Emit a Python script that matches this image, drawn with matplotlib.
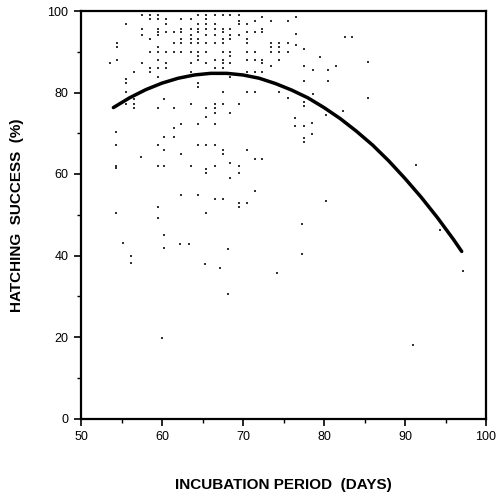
import matplotlib
matplotlib.use("Agg")
import matplotlib.pyplot as plt
from matplotlib.ticker import MultipleLocator

# Scatter data: (incubation days, hatching success %)
pts_x = [
    57.5, 58.5, 59.5, 64.5, 65.4, 66.5, 67.5, 68.4, 69.5, 72.4,
    58.5, 59.5, 60.5, 62.4, 63.6, 65.4, 69.5, 71.5, 73.5, 75.6,
    55.5, 60.5, 64.5, 65.4, 66.5, 69.5, 70.5,
    57.5, 59.5, 62.4, 63.6, 64.5, 65.4, 66.5, 67.5, 68.4, 72.4,
    59.5, 60.5, 61.5, 62.4, 64.5, 67.5, 70.5, 71.5, 72.4,
    57.5, 59.5, 63.6, 65.4, 66.5, 68.4, 69.5,
    58.5, 62.4, 63.6, 64.5, 67.5, 68.4, 70.5,
    54.4, 61.5, 62.4, 63.6, 64.5, 65.4, 66.5, 67.5, 70.5, 73.5, 74.4, 75.6,
    54.4, 59.5, 73.5, 74.4,
    58.5, 59.5, 60.5, 61.5, 62.4, 63.6, 64.5, 65.4, 67.5, 68.4, 70.5, 71.5, 73.5, 74.4, 75.6,
    64.5, 68.4,
    54.4, 59.5, 64.5, 66.5, 67.5, 70.5, 71.5, 72.4, 74.4,
    53.6, 57.5, 60.5, 63.6, 65.4, 67.5, 68.4, 72.4, 73.5,
    58.5, 59.5, 60.5, 66.5, 67.5,
    56.5, 58.5, 63.6, 70.5, 71.5, 72.4,
    59.5, 68.4, 55.5, 55.5, 64.5, 64.5,
    55.5, 67.5, 70.5, 71.5, 74.4,
    56.5, 60.3,
    55.5, 56.5, 63.6, 66.5, 67.5, 69.5,
    56.5, 59.5, 61.5, 65.4, 66.5,
    66.5, 68.4, 65.4,
    62.4, 64.5, 66.5, 61.5, 54.3, 60.3, 61.5,
    54.3, 59.5, 64.5, 65.4, 66.5,
    60.3, 67.5, 70.5, 62.4, 67.5, 57.4, 71.5, 72.4, 68.4,
    54.3, 59.5, 60.3, 63.6, 66.5, 69.5,
    54.3, 65.4, 65.4, 69.5, 68.4, 71.5, 62.4, 64.5, 66.5, 67.5,
    69.5, 70.5, 59.5, 69.5, 54.3, 65.4, 59.5,
    60.2, 55.2, 62.2, 63.3, 60.2, 68.2, 56.2, 56.2, 65.3, 67.2,
    74.2, 68.2, 60.0,
    77.3, 77.3, 94.3, 97.2, 91.0, 80.3,
    76.6, 76.5, 82.6, 83.5, 76.5, 77.5, 79.5, 77.5, 78.6, 80.5,
    81.5, 85.4, 77.5, 80.5, 78.6, 75.5, 85.4, 77.5, 77.5, 82.4,
    80.3, 76.4, 76.4, 77.5, 78.5, 78.5, 77.5, 77.5, 91.3,
]
pts_y = [
    99.0, 99.0, 99.0, 99.0, 99.0, 99.0, 99.0, 99.0, 99.0, 98.6,
    98.0, 98.0, 98.0, 98.0, 98.0, 98.0, 97.5, 97.5, 97.5, 97.5,
    96.8, 96.8, 96.8, 96.8, 96.8, 96.8, 96.8,
    95.7, 95.7, 95.7, 95.7, 95.7, 95.7, 95.7, 95.7, 95.7, 95.7,
    94.8, 94.8, 94.8, 94.8, 94.8, 94.8, 94.8, 94.8, 94.8,
    94.0, 94.0, 94.0, 94.0, 94.0, 94.0, 94.0,
    93.1, 93.1, 93.1, 93.1, 93.1, 93.1, 93.1,
    92.1, 92.1, 92.1, 92.1, 92.1, 92.1, 92.1, 92.1, 92.1, 92.1, 92.1, 92.1,
    91.2, 91.2, 91.2, 91.2,
    90.0, 90.0, 90.0, 90.0, 90.0, 90.0, 90.0, 90.0, 90.0, 90.0, 90.0, 90.0, 90.0, 90.0, 90.0,
    89.0, 89.0,
    88.0, 88.0, 88.0, 88.0, 88.0, 88.0, 88.0, 88.0, 88.0,
    87.2, 87.2, 87.2, 87.2, 87.2, 87.2, 87.2, 87.2, 86.6,
    85.9, 85.9, 85.9, 85.9, 85.9,
    85.1, 85.1, 85.1, 85.1, 85.1, 85.1,
    83.9, 83.9, 83.3, 82.4, 82.4, 81.3,
    80.2, 80.2, 80.2, 80.2, 80.2,
    78.3, 78.3,
    77.2, 77.2, 77.2, 77.2, 77.2, 77.2,
    76.1, 76.1, 76.1, 76.1, 76.1,
    74.9, 74.9, 73.9,
    72.2, 72.2, 72.2, 71.2, 70.4, 69.2, 69.2,
    67.1, 67.1, 67.1, 67.1, 67.1,
    65.9, 65.9, 65.9, 64.9, 64.9, 64.1, 63.7, 63.7, 62.6,
    62.0, 62.0, 62.0, 62.0, 62.0, 62.0,
    61.5, 61.2, 60.2, 60.2, 58.9, 55.8, 54.9, 54.9, 53.8, 53.8,
    52.8, 52.8, 52.0, 52.0, 50.4, 50.4, 49.1,
    45.0, 43.0, 42.8, 42.8, 41.9, 41.7, 39.9, 38.2, 38.0, 36.9,
    35.8, 30.6, 19.8,
    47.7, 40.4, 46.3, 36.3, 18.0, 53.4,
    98.6, 94.4, 93.6, 93.6, 91.7, 90.7, 88.6, 86.6, 85.5, 85.4,
    86.5, 87.5, 82.8, 82.7, 79.6, 78.7, 78.6, 77.7, 76.7, 75.5,
    74.5, 73.7, 71.9, 71.8, 72.4, 69.8, 68.8, 67.8, 62.2,
]

# Fitted curve
curve_x = [54, 56, 58, 60, 62, 64, 66, 68, 70, 72, 74, 76, 78, 80,
           82, 84, 86, 88, 90, 92, 94, 96, 97]
curve_y = [76.3, 78.7, 80.7, 82.3, 83.5, 84.3, 84.7, 84.7, 84.3, 83.5,
           82.2, 80.6, 78.7, 76.3, 73.6, 70.5, 67.1, 63.2, 58.9, 54.3,
           49.3, 43.9, 41.0]

x_ticks = [50, 60, 70, 80, 90, 100]
y_ticks = [0, 20, 40, 60, 80, 100]

plt.rcParams['font.family'] = ['Liberation Sans', 'DejaVu Sans']

fig = plt.figure(figsize=(4.98, 4.97), dpi=100)
ax = fig.add_axes([81/498, (497-418.5)/497, 405/498, 407.5/497])

ax.scatter(pts_x, pts_y, s=1.6, marker='s', color='#333333', linewidths=0)
ax.plot(curve_x, curve_y, color='black', linewidth=2.5, solid_capstyle='round')

ax.set_xlim(50, 100)
ax.set_ylim(0, 100)
ax.set_xticks(x_ticks)
ax.set_yticks(y_ticks)
ax.xaxis.set_minor_locator(MultipleLocator(5))
ax.yaxis.set_minor_locator(MultipleLocator(10))
ax.tick_params(which='major', direction='out', length=5, width=1.2,
               labelsize=9, pad=4)
ax.tick_params(which='minor', direction='out', length=3, width=1.0)

for s in ax.spines.values():
    s.set_linewidth(1.6)

ax.set_xlabel('INCUBATION PERIOD  (DAYS)', fontsize=11, fontweight='bold',
              labelpad=25)
ax.set_ylabel('HATCHING  SUCCESS  (%)', fontsize=11, fontweight='bold',
              labelpad=17)

fig.savefig('out.png', dpi=100)
